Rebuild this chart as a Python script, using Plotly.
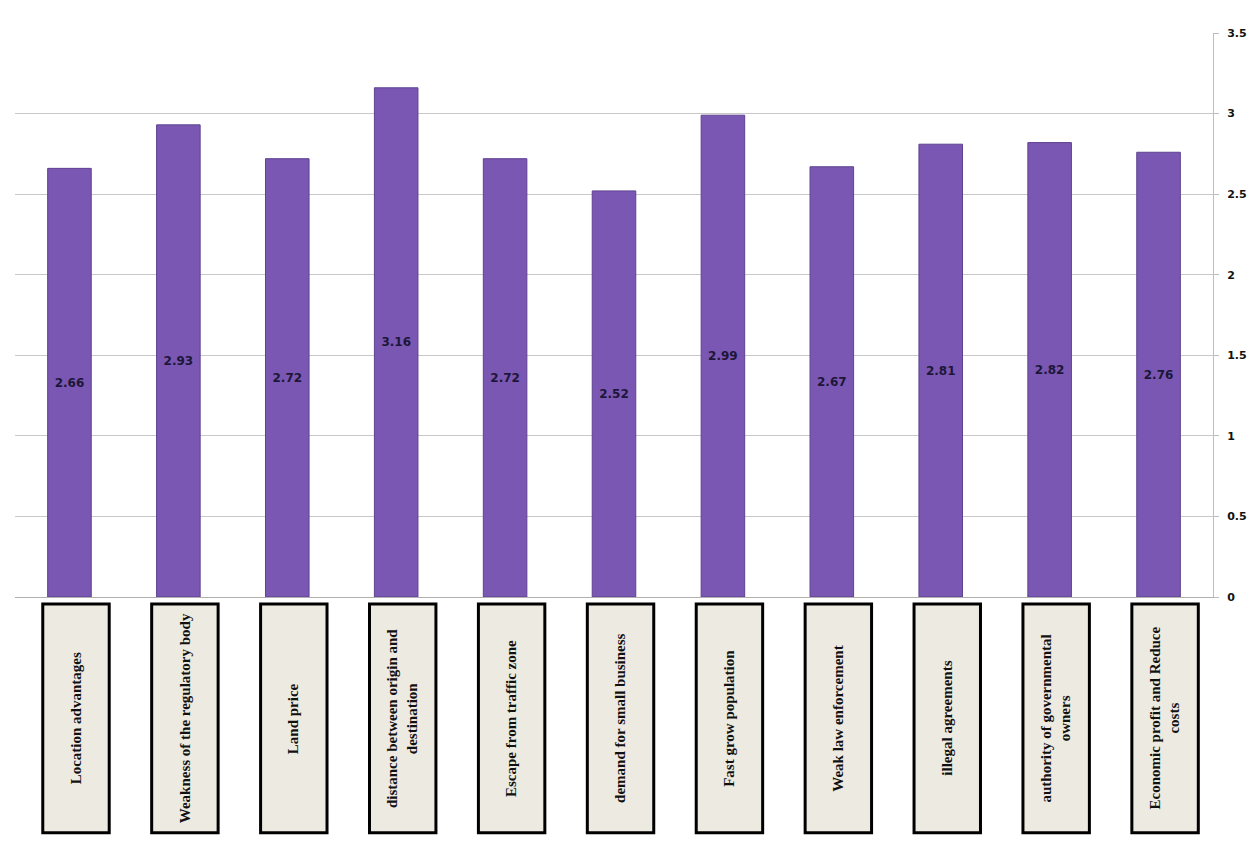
import plotly.graph_objects as go

categories = [
    "Location advantages",
    "Weakness of the regulatory body",
    "Land price",
    "distance between origin and<br>destination",
    "Escape from traffic zone",
    "demand for small business",
    "Fast grow population",
    "Weak law enforcement",
    "illegal agreements",
    "authority of governmental<br>owners",
    "Economic profit and Reduce<br>costs",
]
values = [2.66, 2.93, 2.72, 3.16, 2.72, 2.52, 2.99, 2.67, 2.81, 2.82, 2.76]
y_ticks = [0, 0.5, 1, 1.5, 2, 2.5, 3, 3.5]
y_tick_labels = ["0", "0.5", "1", "1.5", "2", "2.5", "3", "3.5"]

idx = list(range(len(categories)))

fig = go.Figure()
fig.add_trace(go.Bar(
    x=idx,
    y=values,
    width=0.40,
    marker=dict(color="#7a57b2", line=dict(color="#5e4290", width=1)),
    text=[f"{v:.2f}" for v in values],
    textposition="inside",
    insidetextanchor="middle",
    textangle=0,
    constraintext="none",
    textfont=dict(family="DejaVu Sans", size=12, color="#1c1638", weight="bold"),
    hoverinfo="skip",
))

shapes = []
annotations = []
for i, lab in enumerate(categories):
    shapes.append(dict(
        type="rect", xref="x", yref="paper",
        x0=i + 0.06 - 0.305, x1=i + 0.06 + 0.305,
        y0=-0.0124, y1=-0.418,
        fillcolor="#edeae1", line=dict(color="#000000", width=3),
        layer="above",
    ))
    annotations.append(dict(
        x=i + 0.06, y=-0.2152, xref="x", yref="paper",
        xanchor="center", yanchor="middle",
        text=f"<b>{lab}</b>", showarrow=False, textangle=-90,
        font=dict(family="Liberation Serif", size=15, color="#111111"),
        align="center",
    ))

fig.update_layout(
    width=1260, height=853,
    margin=dict(l=15, r=47, t=33, b=256),
    paper_bgcolor="white", plot_bgcolor="white",
    showlegend=False,
    shapes=shapes,
    annotations=annotations,
    xaxis=dict(
        range=[-0.5, len(categories) - 0.5],
        showticklabels=False, showgrid=False, zeroline=False,
        showline=True, linecolor="#b0b0b0", linewidth=1,
        ticks="",
    ),
    yaxis=dict(
        side="right", range=[0, 3.5],
        tickvals=y_ticks, ticktext=y_tick_labels,
        showgrid=True, gridcolor="#c8c8c8", gridwidth=1,
        zeroline=False,
        showline=True, linecolor="#bdbdbd", linewidth=1,
        ticks="outside", ticklen=5, tickcolor="#bdbdbd",
        ticklabelstandoff=6,
        tickfont=dict(family="DejaVu Sans", size=11, color="#111111", weight="bold"),
    ),
)

fig.write_html("out.html")
